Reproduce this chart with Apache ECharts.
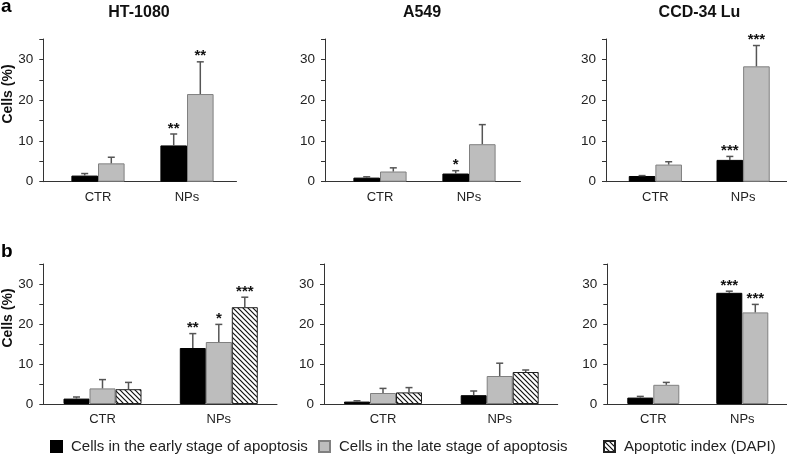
<!DOCTYPE html>
<html>
<head>
<meta charset="utf-8">
<script src="https://cdn.jsdelivr.net/npm/echarts@6/dist/echarts.min.js"></script>
<style>
  html, body { margin: 0; padding: 0; background: #fff; }
  #chart { width: 787px; height: 458px; }
</style>
</head>
<body>
<div id="chart"></div>
<script>
// categories and legend names
const categories = ['CTR', 'NPs']
const seriesNames = [
  'Cells in the early stage of apoptosis',
  'Cells in the late stage of apoptosis',
  'Apoptotic index (DAPI)',
]
const yTicks = [0, 10, 20, 30]

// panel a: HT-1080
const aHtEarly = [1.5, 8.9]
const aHtEarlyErr = [2.0, 11.7]
const aHtEarlyStars = ['', '**']
const aHtLate = [4.5, 21.5]
const aHtLateErr = [6.0, 29.4]
const aHtLateStars = ['', '**']

// panel a: A549
const aA549Early = [1.0, 2.0]
const aA549EarlyErr = [1.2, 2.7]
const aA549EarlyStars = ['', '*']
const aA549Late = [2.5, 9.2]
const aA549LateErr = [3.4, 14.0]
const aA549LateStars = ['', '']

// panel a: CCD-34 Lu
const aCcdEarly = [1.4, 5.35]
const aCcdEarlyErr = [1.5, 6.2]
const aCcdEarlyStars = ['', '***']
const aCcdLate = [4.2, 28.3]
const aCcdLateErr = [4.9, 33.4]
const aCcdLateStars = ['', '***']

// panel b: HT-1080
const bHtEarly = [1.35, 14.0]
const bHtEarlyErr = [1.75, 17.6]
const bHtEarlyStars = ['', '**']
const bHtLate = [3.9, 15.5]
const bHtLateErr = [6.1, 19.9]
const bHtLateStars = ['', '*']
const bHtDapi = [3.7, 24.2]
const bHtDapiErr = [5.4, 26.7]
const bHtDapiStars = ['', '***']

// panel b: A549
const bA549Early = [0.6, 2.2]
const bA549EarlyErr = [0.8, 3.25]
const bA549Late = [2.75, 7.0]
const bA549LateErr = [3.9, 10.2]
const bA549Dapi = [2.9, 8.0]
const bA549DapiErr = [4.1, 8.5]
const noStars = ['', '']

// panel b: CCD-34 Lu
const bCcdEarly = [1.6, 27.8]
const bCcdEarlyErr = [1.9, 28.2]
const bCcdEarlyStars = ['', '***']
const bCcdLate = [4.8, 22.9]
const bCcdLateErr = [5.4, 24.9]
const bCcdLateStars = ['', '***']

const FONT = '"Liberation Sans", Arial, Helvetica, sans-serif'

function hatchPattern() {
  const c = document.createElement('canvas')
  c.width = 5
  c.height = 5
  const ctx = c.getContext('2d')
  ctx.fillStyle = '#fff'
  ctx.fillRect(0, 0, 5, 5)
  ctx.strokeStyle = '#111'
  ctx.lineWidth = 1.2
  ctx.beginPath()
  ctx.moveTo(-1, -1); ctx.lineTo(6, 6)
  ctx.moveTo(-1, 4); ctx.lineTo(1, 6)
  ctx.moveTo(4, -1); ctx.lineTo(6, 1)
  ctx.stroke()
  return c
}

const barStyles = [
  { color: '#000', borderColor: '#000', borderWidth: 1 },
  { color: '#bdbdbd', borderColor: '#808080', borderWidth: 1 },
  { color: { image: hatchPattern(), repeat: 'repeat' }, borderColor: '#222', borderWidth: 1 },
]

const rows = [
  { top: 39, height: 142.7, barW: 26.6 },
  { top: 264, height: 140, barW: 26 },
]

const panels = [
  { row: 0, axisL: 43.3, axisR: 236.5, c1: 98, c2: 187, titleX: 139, title: 'HT-1080',
    groups: [[aHtEarly, aHtEarlyErr, aHtEarlyStars], [aHtLate, aHtLateErr, aHtLateStars]] },
  { row: 0, axisL: 325, axisR: 520.5, c1: 380, c2: 469, titleX: 422, title: 'A549',
    groups: [[aA549Early, aA549EarlyErr, aA549EarlyStars], [aA549Late, aA549LateErr, aA549LateStars]] },
  { row: 0, axisL: 606, axisR: 787, c1: 656, c2: 745, titleX: 699.5, title: 'CCD-34 Lu',
    groups: [[aCcdEarly, aCcdEarlyErr, aCcdEarlyStars], [aCcdLate, aCcdLateErr, aCcdLateStars]] },
  { row: 1, axisL: 43.3, axisR: 277, c1: 102.5, c2: 218.8,
    groups: [[bHtEarly, bHtEarlyErr, bHtEarlyStars], [bHtLate, bHtLateErr, bHtLateStars], [bHtDapi, bHtDapiErr, bHtDapiStars]] },
  { row: 1, axisL: 324, axisR: 557.7, c1: 383, c2: 499.7,
    groups: [[bA549Early, bA549EarlyErr, noStars], [bA549Late, bA549LateErr, noStars], [bA549Dapi, bA549DapiErr, noStars]] },
  { row: 1, axisL: 607.3, axisR: 787, c1: 653.3, c2: 742.3,
    groups: [[bCcdEarly, bCcdEarlyErr, bCcdEarlyStars], [bCcdLate, bCcdLateErr, bCcdLateStars]] },
]

const grid = []
const xAxis = []
const yAxis = []
const series = []

panels.forEach((p, i) => {
  const r = rows[p.row]
  const ga = 2 * i
  const gb = 2 * i + 1
  const step = p.c2 - p.c1

  // grid holding the visible axes
  grid.push({ left: p.axisL, top: r.top, width: p.axisR - p.axisL, height: r.height })
  // grid holding the bars
  grid.push({ left: p.c1 - step / 2, top: r.top, width: step * 2, height: r.height })

  xAxis.push({
    gridIndex: ga, type: 'category', data: categories,
    axisLine: { lineStyle: { color: '#333', width: 1 } },
    axisTick: { show: false }, axisLabel: { show: false },
  })
  yAxis.push({
    gridIndex: ga, type: 'value', min: 0, max: 35, interval: 5,
    splitLine: { show: false },
    axisLine: { show: true, lineStyle: { color: '#333', width: 1 } },
    axisTick: { show: true, length: 4, lineStyle: { color: '#333' } },
    axisLabel: {
      margin: 10, fontSize: 13.5, color: '#222', fontFamily: FONT,
      formatter: (v) => (yTicks.includes(v) ? String(v) : ''),
    },
  })
  xAxis.push({
    gridIndex: gb, type: 'category', data: categories,
    axisLine: { show: false }, axisTick: { show: false },
    axisLabel: { margin: 9, fontSize: 13, color: '#222', fontFamily: FONT },
  })
  yAxis.push({ gridIndex: gb, type: 'value', min: 0, max: 35, show: false })

  const n = p.groups.length
  const items = []
  p.groups.forEach(([vals, errs, stars], k) => {
    series.push({
      type: 'bar', name: seriesNames[k], xAxisIndex: gb, yAxisIndex: gb,
      data: vals, barWidth: r.barW, barGap: '0%',
      itemStyle: barStyles[k], emphasis: { disabled: true },
    })
    vals.forEach((v, c) => items.push({ c, v, e: errs[c], k, s: stars[c] }))
  })

  series.push({
    type: 'custom', xAxisIndex: gb, yAxisIndex: gb, z: 5, silent: true,
    data: items.map((d) => [d.c, d.e, d.v]),
    renderItem: (params, api) => {
      const d = items[params.dataIndex]
      const off = (d.k - (n - 1) / 2) * r.barW
      const pt = api.coord([api.value(0), api.value(1)])
      const pb = api.coord([api.value(0), api.value(2)])
      const x = pt[0] + off
      const children = [
        { type: 'line', shape: { x1: x, y1: pb[1], x2: x, y2: pt[1] }, style: { stroke: '#555', lineWidth: 1.5 } },
        { type: 'line', shape: { x1: x - 3.5, y1: pt[1], x2: x + 3.5, y2: pt[1] }, style: { stroke: '#555', lineWidth: 1.5 } },
      ]
      if (d.s) {
        children.push({
          type: 'text', x: x, y: pt[1] + 2,
          style: { text: d.s, textAlign: 'center', textVerticalAlign: 'bottom', fill: '#111', font: 'bold 15px ' + FONT },
        })
      }
      return { type: 'group', children }
    },
  })
})

const graphic = []
panels.forEach((p) => {
  if (p.title) {
    graphic.push({ type: 'text', x: p.titleX, y: 13, style: { text: p.title, textAlign: 'center', textVerticalAlign: 'middle', fill: '#111', font: 'bold 16px ' + FONT } })
  }
})
graphic.push({ type: 'text', x: 1, y: 16, style: { text: 'a', textVerticalAlign: 'bottom', fill: '#000', font: 'bold 19px ' + FONT } })
graphic.push({ type: 'text', x: 1, y: 261, style: { text: 'b', textVerticalAlign: 'bottom', fill: '#000', font: 'bold 19px ' + FONT } })
graphic.push({ type: 'text', x: 8, y: 94, rotation: Math.PI / 2, style: { text: 'Cells (%)', textAlign: 'center', textVerticalAlign: 'middle', fill: '#111', font: 'bold 14px ' + FONT } })
graphic.push({ type: 'text', x: 8, y: 318, rotation: Math.PI / 2, style: { text: 'Cells (%)', textAlign: 'center', textVerticalAlign: 'middle', fill: '#111', font: 'bold 14px ' + FONT } })

const legendLefts = [50, 318, 603]
const legend = seriesNames.map((name, k) => ({
  data: [name], left: legendLefts[k], top: 439, padding: 0,
  itemWidth: 11, itemHeight: 11, icon: 'rect', selectedMode: false,
  textStyle: { fontSize: 15, color: '#222', fontFamily: FONT, padding: [0, 0, 0, 4] },
}))

const chart = echarts.init(document.getElementById('chart'), null, { renderer: 'canvas' })
chart.setOption({
  animation: false,
  backgroundColor: '#fff',
  textStyle: { fontFamily: FONT },
  grid, xAxis, yAxis, series, legend, graphic,
})
</script>
</body>
</html>
